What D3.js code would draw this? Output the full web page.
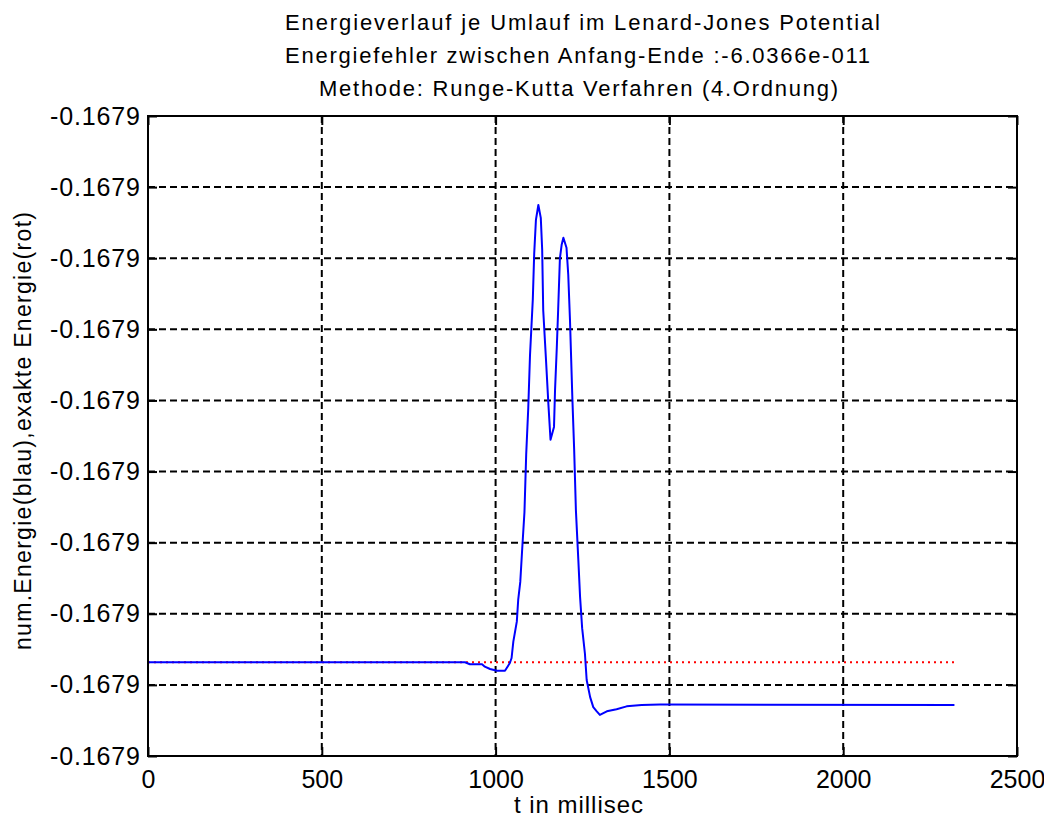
<!DOCTYPE html>
<html>
<head>
<meta charset="utf-8">
<script src="https://cdn.jsdelivr.net/npm/d3@7"></script>
<style>
  body { margin: 0; background: #fff; }
  svg text { font-family: "Liberation Sans", Arial, sans-serif; fill: #000; }
</style>
</head>
<body>
<svg id="chart" width="1044" height="823"></svg>
<script>
// Energy per orbit in the Lennard-Jones potential (RK4)

const titleLines = [
  "Energieverlauf je Umlauf im Lenard-Jones Potential",
  "Energiefehler zwischen Anfang-Ende :-6.0366e-011",
  "Methode: Runge-Kutta Verfahren (4.Ordnung)"
];
const xLabel = "t in millisec";
const yLabel = "num.Energie(blau),exakte Energie(rot)";

// x axis ticks
const xTicks = [0, 500, 1000, 1500, 2000, 2500];

// y axis: deviation from exact energy, in units of 1e-10
const yTicks = [-1.318, -0.318, 0.682, 1.682, 2.682, 3.682, 4.682, 5.682, 6.682, 7.682];
const yTickLabels = ["-0.1679", "-0.1679", "-0.1679", "-0.1679", "-0.1679",
                     "-0.1679", "-0.1679", "-0.1679", "-0.1679", "-0.1679"];

// numerical energy (blue)
const numT = [0, 912, 926, 961, 969, 984, 1004, 1027, 1032, 1041, 1046, 1051, 1061, 1065,
  1071, 1076, 1083, 1088, 1094, 1099, 1107, 1111, 1116, 1123, 1130, 1134, 1137, 1145,
  1152, 1158, 1168, 1171, 1176, 1180, 1185, 1190, 1195, 1204, 1209, 1214, 1221, 1226,
  1231, 1238, 1243, 1249, 1257, 1262, 1272, 1281, 1291, 1300, 1320, 1348, 1377, 1420,
  1473, 2320];
const numE = [0, 0, -0.028, -0.028, -0.062, -0.094, -0.118, -0.118, -0.08, -0.01, 0.06,
  0.29, 0.571, 0.876, 1.13, 1.55, 2.11, 2.92, 3.58, 4.32, 5.10, 5.74, 6.22, 6.43, 6.25,
  5.80, 4.95, 4.25, 3.62, 3.13, 3.31, 3.83, 4.42, 4.96, 5.68, 5.87, 5.97, 5.83, 5.45,
  4.81, 3.69, 2.99, 2.14, 1.44, 0.92, 0.48, 0.12, -0.25, -0.49, -0.63, -0.69, -0.74,
  -0.69, -0.66, -0.62, -0.60, -0.595, -0.60];

// exact energy (red)
const exactT = [0, 2325];
const exactE = [0, 0];

const svg = d3.select("#chart");
const margin = { left: 148, right: 27, top: 116, bottom: 67 };
const W = 1044, H = 823;
const iw = W - margin.left - margin.right;
const ih = H - margin.top - margin.bottom;

// text layout (the reference font is wider than Arial at the same height)
const titleX = [285, 285, 319];
const titleLen = [595, 585, 519];

const x = d3.scaleLinear().domain([0, 2500]).range([0, iw]);
const y = d3.scaleLinear().domain([yTicks[0], yTicks[yTicks.length - 1]]).range([ih, 0]);

const g = svg.append("g").attr("transform", `translate(${margin.left},${margin.top})`);

// grid
g.append("g").selectAll("line")
  .data(xTicks.slice(1, -1))
  .enter().append("line")
  .attr("x1", d => x(d)).attr("x2", d => x(d))
  .attr("y1", 0).attr("y2", ih)
  .attr("stroke", "#000").attr("stroke-width", 2).attr("stroke-dasharray", "7,4");

g.append("g").selectAll("line")
  .data(yTicks.slice(1, -1))
  .enter().append("line")
  .attr("x1", 0).attr("x2", iw)
  .attr("y1", d => y(d)).attr("y2", d => y(d))
  .attr("stroke", "#000").attr("stroke-width", 2).attr("stroke-dasharray", "7,4");

// curves
const line = d3.line().x(d => x(d[0])).y(d => y(d[1]));

g.append("path")
  .datum(d3.zip(exactT, exactE))
  .attr("d", line)
  .attr("fill", "none")
  .attr("stroke", "#ff0000").attr("stroke-width", 2)
  .attr("stroke-dasharray", "2,4");

g.append("path")
  .datum(d3.zip(numT, numE))
  .attr("d", line)
  .attr("fill", "none")
  .attr("stroke", "#0000ff").attr("stroke-width", 2)
  .attr("stroke-linejoin", "round");

// axes box with inward ticks on all four sides
const tickLen = 9;
const axisStyle = sel => {
  sel.select(".domain").remove();
  sel.selectAll(".tick line").attr("stroke", "#000").attr("stroke-width", 2);
  sel.selectAll(".tick text").style("font-size", "25px");
};

g.append("g").attr("transform", `translate(0,${ih})`)
  .call(d3.axisBottom(x).tickValues(xTicks).tickSizeInner(-tickLen).tickPadding(14).tickFormat(d3.format("d")))
  .call(axisStyle);

g.append("g")
  .call(d3.axisTop(x).tickValues(xTicks).tickSizeInner(-tickLen).tickFormat(""))
  .call(axisStyle);

g.append("g")
  .call(d3.axisLeft(y).tickValues(yTicks).tickSizeInner(-tickLen).tickPadding(8)
    .tickFormat((d, i) => yTickLabels[i]))
  .call(axisStyle)
  .selectAll(".tick text").attr("textLength", 90);

g.append("g").attr("transform", `translate(${iw},0)`)
  .call(d3.axisRight(y).tickValues(yTicks).tickSizeInner(-tickLen).tickFormat(""))
  .call(axisStyle);

g.append("rect")
  .attr("width", iw).attr("height", ih)
  .attr("fill", "none").attr("stroke", "#000").attr("stroke-width", 2);

// titles and labels
svg.append("g").selectAll("text")
  .data(titleLines)
  .enter().append("text")
  .attr("x", (d, i) => titleX[i])
  .attr("y", (d, i) => 30 + i * 33)
  .attr("textLength", (d, i) => titleLen[i])
  .style("font-size", "22px")
  .text(d => d);

svg.append("text")
  .attr("x", 514)
  .attr("y", 813)
  .attr("textLength", 129)
  .style("font-size", "24px")
  .text(xLabel);

svg.append("text")
  .attr("transform", `translate(31,${431 + 219}) rotate(-90)`)
  .attr("textLength", 438)
  .style("font-size", "23px")
  .text(yLabel);
</script>
</body>
</html>
